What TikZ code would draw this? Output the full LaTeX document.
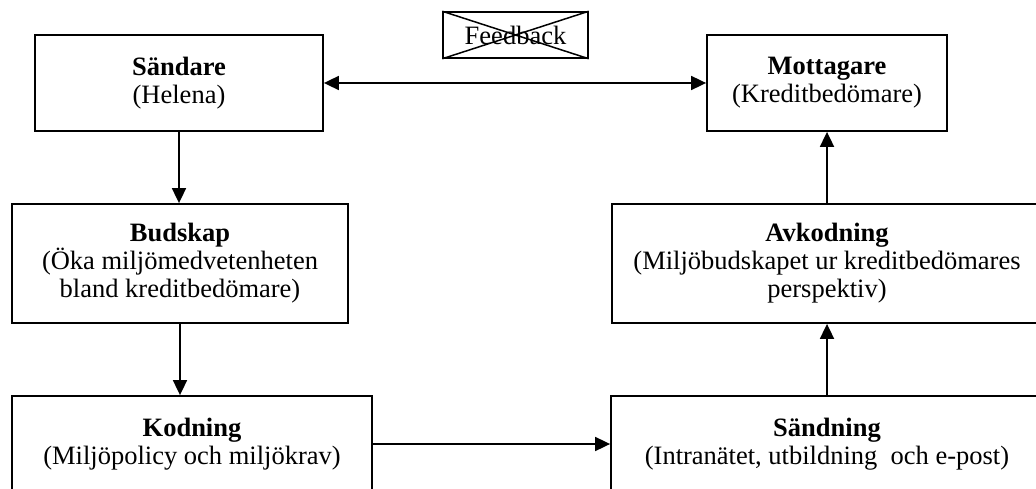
\documentclass[tikz,border=0pt]{standalone}
\usepackage{fontspec}
\setmainfont{Liberation Serif}
\usetikzlibrary{arrows.meta}
\begin{document}
\begin{tikzpicture}[x=1pt, y=-1pt,
  every node/.style={font=\fontsize{26.5}{28}\selectfont, align=center, inner sep=0pt},
  box/.style={draw, line width=1.8pt, rectangle},
  flow/.style={line width=1.8pt, -{Triangle[length=15pt,width=14pt]}},
  twoway/.style={line width=1.8pt, {Triangle[length=15pt,width=14pt]}-{Triangle[length=15pt,width=14pt]}}]
  \useasboundingbox (0,0) rectangle (1036,489);
  \clip (0,0) rectangle (1036,489);
  % sender and receiver
  \node[box, minimum width=288pt, minimum height=96pt] (sand) at (179,83)
    {\textbf{Sändare}\\(Helena)};
  \node[box, minimum width=240pt, minimum height=96pt] (mott) at (827,83)
    {\textbf{Mottagare}\\(Kreditbedömare)};
  % crossed-out feedback box
  \node[box, line width=1.5pt, minimum width=145pt, minimum height=46pt] (fb) at (515.5,35) {Feedback};
  \draw[line width=1.5pt] (fb.north west) -- (fb.south east);
  \draw[line width=1.5pt] (fb.south west) -- (fb.north east);
  % message and decoding
  \node[box, minimum width=336pt, minimum height=119pt] (bud) at (180,263.5)
    {\textbf{Budskap}\\(Öka miljömedvetenheten\\bland kreditbedömare)};
  \node[box, minimum width=430pt, minimum height=119pt] (avk) at (827,263.5)
    {\textbf{Avkodning}\\(Miljöbudskapet ur kreditbedömares\\perspektiv)};
  % encoding and transmission
  \node[box, minimum width=360pt, minimum height=96pt] (kod) at (192,444)
    {\textbf{Kodning}\\(Miljöpolicy och miljökrav)};
  \node[box, minimum width=432pt, minimum height=96pt] (sdn) at (827,444)
    {\textbf{Sändning}\\(Intranätet, utbildning\ \ och e-post)};
  % connectors
  \draw[twoway] (sand.east) -- (mott.west);
  \draw[flow] (sand.south) -- (sand.south |- bud.north);
  \draw[flow] (bud.south) -- (bud.south |- kod.north);
  \draw[flow] (kod.east) -- (sdn.west);
  \draw[flow] (sdn.north) -- (avk.south);
  \draw[flow] (avk.north) -- (mott.south);
\end{tikzpicture}
\end{document}
